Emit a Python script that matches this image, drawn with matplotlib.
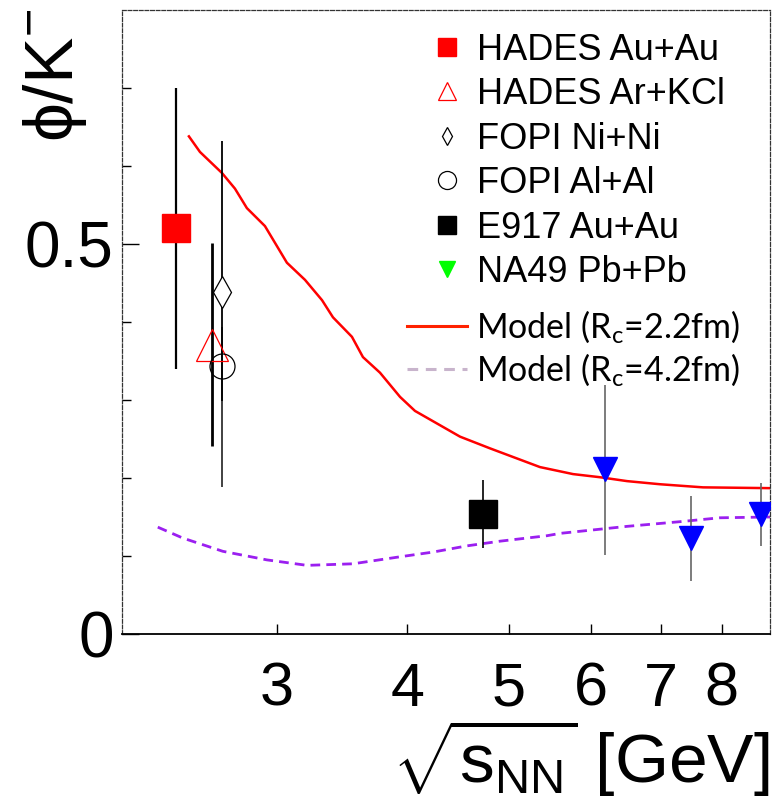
import matplotlib
matplotlib.use("Agg")
import matplotlib.pyplot as plt
from matplotlib.lines import Line2D

plt.rcParams["font.family"] = ["Liberation Sans", "DejaVu Sans"]
plt.rcParams["mathtext.fontset"] = "custom"
plt.rcParams["mathtext.rm"] = "Liberation Sans"
plt.rcParams["mathtext.sf"] = "Lato"

# phi/K- ratio vs sqrt(s_NN)
hades_auau_x = [2.40]
hades_auau_y = [0.52]
hades_auau_err = [0.18]

hades_arkcl_x = [2.60]
hades_arkcl_y = [0.371]
hades_arkcl_err = [0.13]

fopi_nini_x = [2.66]
fopi_nini_y = [0.439]
fopi_nini_err_lo = [0.14]
fopi_nini_err_hi = [0.193]

fopi_alal_x = [2.66]
fopi_alal_y = [0.343]
fopi_alal_err_lo = [0.155]
fopi_alal_err_hi = [0.05]

e917_x = [4.73]
e917_y = [0.154]
e917_err = [0.044]

na49_x = [6.19, 7.47, 8.73]
na49_y = [0.211, 0.123, 0.154]
na49_err_lo = [0.110, 0.055, 0.041]
na49_err_hi = [0.108, 0.054, 0.040]

# model curves
model22_x = [2.471, 2.532, 2.658, 2.735, 2.808, 2.922, 3.067, 3.192, 3.314, 3.395,
             3.540, 3.627, 3.766, 3.936, 4.068, 4.493, 4.800, 5.359, 5.765, 6.117,
             6.494, 6.982, 7.678, 8.901]
model22_y = [0.638, 0.618, 0.591, 0.571, 0.546, 0.523, 0.476, 0.454, 0.428, 0.406,
             0.381, 0.355, 0.335, 0.304, 0.286, 0.253, 0.238, 0.214, 0.205, 0.201,
             0.196, 0.192, 0.188, 0.187]

model42_x = [2.307, 2.438, 2.663, 2.935, 3.206, 3.548, 3.936, 4.232, 4.563, 4.907,
             5.443, 5.601, 6.494, 7.298, 7.970, 8.901]
model42_y = [0.137, 0.123, 0.106, 0.095, 0.088, 0.090, 0.099, 0.105, 0.113, 0.119,
             0.126, 0.129, 0.138, 0.144, 0.149, 0.150]

x_ticks = [3, 4, 5, 6, 7, 8]
y_ticks_major = [0, 0.5]
y_ticks_minor = [0.1, 0.2, 0.3, 0.4, 0.6, 0.7]

fig = plt.figure(figsize=(7.74, 8.07), dpi=100)
ax = fig.add_axes([122 / 774, 1 - 634 / 807, 648 / 774, 624 / 807])

ax.plot(model22_x, model22_y, color="#ff0000", lw=1.8, zorder=2)
ax.plot(model42_x, model42_y, color="#9b1ff0", lw=2.0, dashes=(3.5, 2.2), zorder=2)

ax.errorbar(hades_auau_x, hades_auau_y, yerr=hades_auau_err, fmt="s", ms=20,
            color="#ff0000", ecolor="black", elinewidth=1.6, capsize=0, zorder=3)
ax.errorbar(hades_arkcl_x, hades_arkcl_y, yerr=hades_arkcl_err, fmt="^", ms=23,
            mfc="none", mec="#ff0000", mew=0.9, ecolor="black", elinewidth=2.0,
            capsize=0, zorder=3)
ax.errorbar(fopi_alal_x, fopi_alal_y, yerr=[fopi_alal_err_lo, fopi_alal_err_hi],
            fmt="o", ms=18, mfc="none", mec="black", mew=0.9, ecolor="#333333",
            elinewidth=1.3, capsize=0, zorder=3)
ax.errorbar(fopi_nini_x, fopi_nini_y, yerr=[fopi_nini_err_lo, fopi_nini_err_hi],
            fmt="d", ms=16, mfc="white", mec="black", mew=0.9, ecolor="black",
            elinewidth=1.3, capsize=0, zorder=3)
ax.errorbar(e917_x, e917_y, yerr=e917_err, fmt="s", ms=20, color="black",
            ecolor="black", elinewidth=1.2, capsize=0, zorder=3)
ax.errorbar(na49_x, na49_y, yerr=[na49_err_lo, na49_err_hi], fmt="v", ms=17,
            color="#0000ff", ecolor="#666666", elinewidth=1.2, capsize=0, zorder=3)

ax.set_xscale("log")
ax.set_xlim(2.132, 8.90)
ax.set_ylim(0, 0.8)

ax.set_xticks(x_ticks)
ax.set_xticks([], minor=True)
ax.set_xticklabels([str(t) for t in x_ticks])
ax.set_yticks(y_ticks_major)
ax.set_yticklabels(["0", "0.5"])
ax.set_yticks(y_ticks_minor, minor=True)

ax.tick_params(axis="x", which="major", direction="in", length=7, width=1,
               labelsize=44, pad=20, top=False)
ax.tick_params(axis="y", which="major", direction="in", length=12, width=1,
               labelsize=46, pad=6, right=False)
ax.tick_params(axis="y", which="minor", direction="in", length=6.5, width=1,
               right=False)

for side in ["left", "top", "right"]:
    ax.spines[side].set_linestyle((0, (3, 1.5)))
    ax.spines[side].set_linewidth(0.9)
    ax.spines[side].set_color("#333333")
ax.spines["bottom"].set_linewidth(1.3)

# legend for data sets
data_handles = [
    Line2D([], [], ls="none", marker="s", ms=13, color="#ff0000"),
    Line2D([], [], ls="none", marker="^", ms=13, mfc="none", mec="#ff0000", mew=0.9),
    Line2D([], [], ls="none", marker="d", ms=9, mfc="none", mec="black", mew=0.9),
    Line2D([], [], ls="none", marker="o", ms=13, mfc="none", mec="black", mew=0.9),
    Line2D([], [], ls="none", marker="s", ms=13, color="black"),
    Line2D([], [], ls="none", marker="v", ms=12, color="#00ff00"),
]
data_labels = ["HADES Au+Au", "HADES Ar+KCl", "FOPI Ni+Ni", "FOPI Al+Al",
               "E917 Au+Au", "NA49 Pb+Pb"]
leg1 = ax.legend(data_handles, data_labels, loc="upper left",
                 bbox_to_anchor=(0.4738, 0.9638), frameon=False, fontsize=26,
                 handlelength=1.0, handletextpad=0.33, labelspacing=0.263,
                 borderpad=0, borderaxespad=0)
ax.add_artist(leg1)

# legend for model curves
model_handles = [
    Line2D([], [], color="#ff2200", lw=2.2),
    Line2D([], [], color="#c8b4cc", lw=2.2, dashes=(3.5, 2.5)),
]
model_labels = [r"Model (R$_{\mathsf{c}}$=2.2fm)", r"Model (R$_{\mathsf{c}}$=4.2fm)"]
leg2 = ax.legend(model_handles, model_labels, loc="upper left",
                 bbox_to_anchor=(0.4398, 0.522), frameon=False,
                 prop={"family": "Lato", "size": 24.5},
                 handlelength=1.76, handletextpad=0.26, labelspacing=0.17,
                 borderpad=0, borderaxespad=0)

fig.text(55 / 774, 1 - 9 / 807, "ϕ/K$^{-}$", rotation=90, ha="center", va="top",
         fontsize=50)
fig.text(770 / 774, 8 / 807, r"$\sqrt{\mathrm{s}_{\mathrm{NN}}}$ [GeV]",
         ha="right", va="bottom", fontsize=50)

fig.savefig("out.png", dpi=100)
